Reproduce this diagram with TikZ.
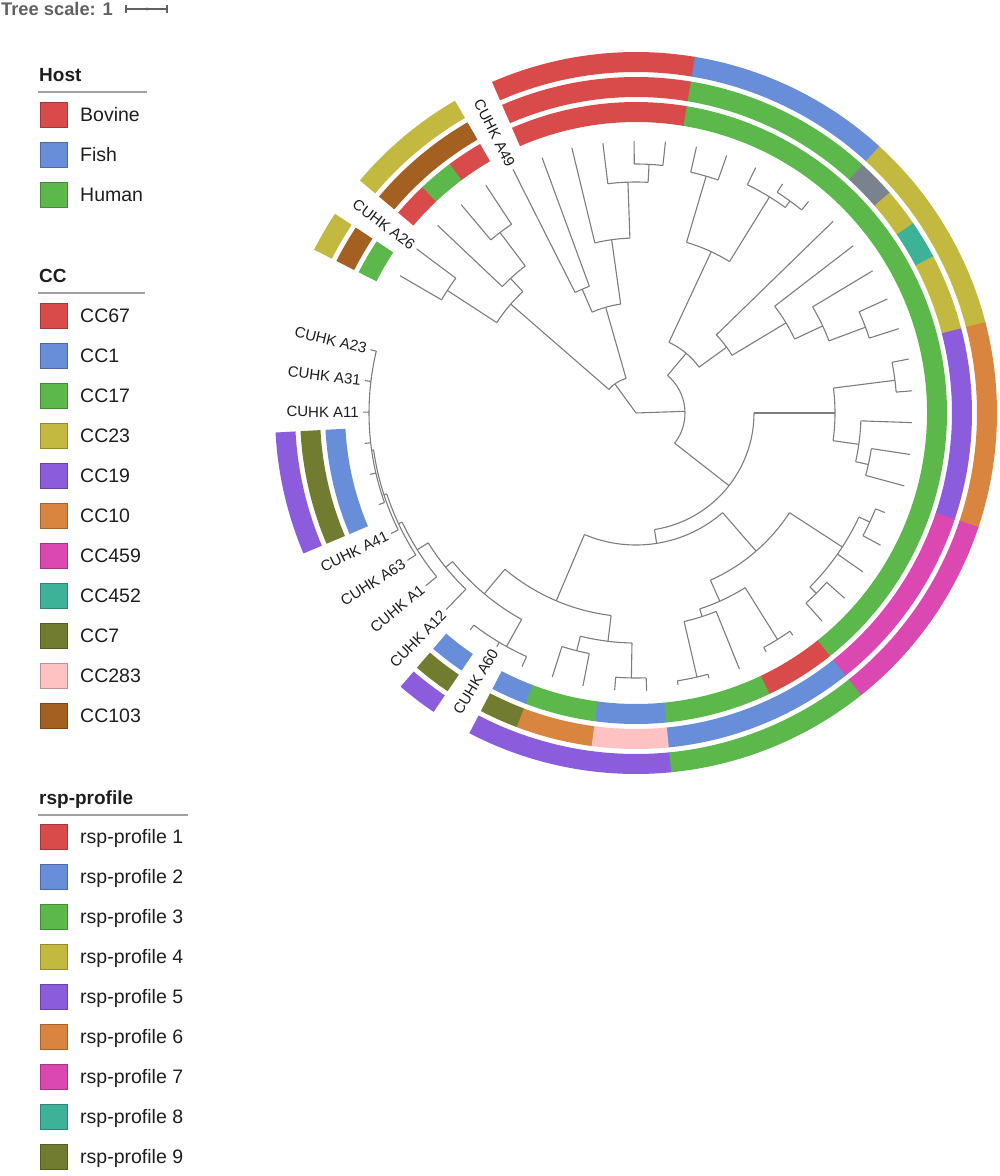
\documentclass[tikz,border=0pt]{standalone}
\usepackage{fontspec}
\setmainfont{Liberation Sans}
\definecolor{cRed}{RGB}{217,75,75}
\definecolor{cBlue}{RGB}{104,141,217}
\definecolor{cGreen}{RGB}{93,184,76}
\definecolor{cYellow}{RGB}{196,185,64}
\definecolor{cPurple}{RGB}{139,92,219}
\definecolor{cOrange}{RGB}{217,133,64}
\definecolor{cMagenta}{RGB}{219,72,178}
\definecolor{cTeal}{RGB}{62,178,152}
\definecolor{cOlive}{RGB}{114,124,48}
\definecolor{cPink}{RGB}{255,194,194}
\definecolor{cBrown}{RGB}{163,96,33}
\definecolor{cGrey}{RGB}{122,130,142}
\definecolor{treeline}{RGB}{125,125,125}
\definecolor{legline}{RGB}{160,160,160}
\definecolor{txt}{RGB}{30,30,30}
\newcommand{\trad}[3]{\draw[tree] (#1:#2) -- (#1:#3);}
\newcommand{\tarc}[3]{\draw[tree] (#2:#1) arc[start angle=#2,end angle=#3,radius=#1];}
\newcommand{\rseg}[5]{\fill[#5] (#3:#1) arc[start angle=#3,end angle=#4,radius=#1] -- (#4:#2) arc[start angle=#4,end angle=#3,radius=#2] -- cycle;}
\newcommand{\ringA}[3]{\rseg{291}{311}{#1}{#2}{#3}}
\newcommand{\ringB}[3]{\rseg{316}{336}{#1}{#2}{#3}}
\newcommand{\ringC}[3]{\rseg{341}{361}{#1}{#2}{#3}}
\newcommand{\legitem}[4]{%
  \node[swatch, fill=#3, draw=#3!75!black] (#1) at (53.5,#2) {};
  \node[legtext] (#1t) at (80,#2+6.8) {#4};}
\begin{document}
\begin{tikzpicture}[x=1pt,y=-1pt,
  tree/.style={draw=treeline, line width=1.1pt},
  swatch/.style={rectangle, minimum width=27pt, minimum height=25pt, inner sep=0pt, line width=1pt},
  legtext/.style={anchor=base west, inner sep=0pt, text=txt, font=\fontsize{19.5}{23}\selectfont},
  legtitle/.style={anchor=base west, inner sep=0pt, text=txt, font=\fontsize{19}{23}\selectfont\bfseries},
  legrule/.style={draw=legline, line width=1.3pt},
  tiplab/.style={anchor=east, inner sep=0pt, text=txt, font=\fontsize{15}{18}\selectfont}]
\useasboundingbox (0,0) rectangle (1000,1176);

% tree scale
\node[anchor=west, inner sep=0pt, text=black!62, font=\fontsize{18.3}{21}\selectfont\bfseries] (ts) at (1,9) {Tree scale: 1};
\coordinate (sbL) at (126,9);
\coordinate (sbR) at (167,9);
\draw[black!62, line width=1.2pt] (sbL) -- (sbR);
\draw[black!62, line width=1.2pt] (126,5) -- (126,13) (167,5) -- (167,13);
\fill[black!62] (147,9) circle (1.6);

% legends
\node[legtitle] (hostT) at (39,81.8) {Host};
\draw[legrule] (38,92) -- (147,92);
\legitem{hb}{115}{cRed}{Bovine}
\legitem{hf}{155}{cBlue}{Fish}
\legitem{hh}{195}{cGreen}{Human}

\node[legtitle] (ccT) at (39,282.8) {CC};
\draw[legrule] (38,293) -- (145,293);
\legitem{c1}{316}{cRed}{CC67}
\legitem{c2}{356}{cBlue}{CC1}
\legitem{c3}{396}{cGreen}{CC17}
\legitem{c4}{436}{cYellow}{CC23}
\legitem{c5}{476}{cPurple}{CC19}
\legitem{c6}{516}{cOrange}{CC10}
\legitem{c7}{556}{cMagenta}{CC459}
\legitem{c8}{596}{cTeal}{CC452}
\legitem{c9}{636}{cOlive}{CC7}
\legitem{c10}{676}{cPink}{CC283}
\legitem{c11}{716}{cBrown}{CC103}

\node[legtitle] (rspT) at (39,804) {rsp-profile};
\draw[legrule] (38,815) -- (188,815);
\legitem{r1}{837}{cRed}{rsp-profile 1}
\legitem{r2}{877}{cBlue}{rsp-profile 2}
\legitem{r3}{917}{cGreen}{rsp-profile 3}
\legitem{r4}{957}{cYellow}{rsp-profile 4}
\legitem{r5}{997}{cPurple}{rsp-profile 5}
\legitem{r6}{1037}{cOrange}{rsp-profile 6}
\legitem{r7}{1077}{cMagenta}{rsp-profile 7}
\legitem{r8}{1117}{cTeal}{rsp-profile 8}
\legitem{r9}{1157}{cOlive}{rsp-profile 9}

\begin{scope}[shift={(636pt,-413pt)}, y=1pt]
% ---------- rings ----------
\ringA{113.5}{80.5}{cRed}
\ringA{80.6}{-51.5}{cGreen}
\ringA{-51.4}{-64.7}{cRed}
\ringA{-64.6}{-84.5}{cGreen}
\ringA{-84.4}{-97.7}{cBlue}
\ringA{-97.6}{-110.9}{cGreen}
\ringA{-110.8}{-117.5}{cBlue}

\ringB{113.5}{80.5}{cRed}
\ringB{80.6}{47.5}{cGreen}
\ringB{47.6}{40.9}{cGrey}
\ringB{41}{34.3}{cYellow}
\ringB{34.4}{27.7}{cTeal}
\ringB{27.8}{14.5}{cYellow}
\ringB{14.6}{-18.5}{cPurple}
\ringB{-18.4}{-51.5}{cMagenta}
\ringB{-51.4}{-84.5}{cBlue}
\ringB{-84.4}{-97.7}{cPink}
\ringB{-97.6}{-110.9}{cOrange}
\ringB{-110.8}{-117.5}{cOlive}

\ringC{113.5}{80.5}{cRed}
\ringC{80.6}{47.5}{cBlue}
\ringC{47.6}{14.5}{cYellow}
\ringC{14.6}{-18.5}{cOrange}
\ringC{-18.4}{-51.5}{cMagenta}
\ringC{-51.4}{-84.5}{cGreen}
\ringC{-84.4}{-117.5}{cPurple}

% isolated segments
\ringA{139.9}{133.3}{cRed}
\ringA{133.4}{126.7}{cGreen}
\ringA{126.8}{120.1}{cRed}
\ringB{139.9}{120.1}{cBrown}
\ringC{139.9}{120.1}{cYellow}

\ringA{153.1}{146.5}{cGreen}
\ringB{153.1}{146.5}{cBrown}
\ringC{153.1}{146.5}{cYellow}

\ringA{202.9}{183.1}{cBlue}
\ringB{202.9}{183.1}{cOlive}
\ringC{202.9}{183.1}{cPurple}

\ringA{235.9}{229.3}{cBlue}
\ringB{235.9}{229.3}{cOlive}
\ringC{235.9}{229.3}{cPurple}

% ---------- tree: upper-left clade ----------
\trad{126}{0}{36}
\tarc{36}{106}{139}
\trad{139}{36}{166}
\tarc{166}{133}{147}
\trad{147}{166}{225}
\tarc{225}{143.2}{149.8}
\trad{149.8}{225}{273}
\trad{143.2}{225}{274}
\trad{133}{166}{184}
\tarc{184}{127}{136.6}
\trad{136.6}{184}{273}
\trad{127}{184}{226}
\tarc{226}{123.4}{130}
\trad{130}{226}{272}
\trad{123.4}{226}{273}
\trad{106}{36}{110}
\tarc{110}{98}{113.5}
\trad{113.5}{110}{135}
\tarc{135}{110.2}{116.8}
\trad{116.8}{135}{273}
\trad{110.2}{135}{272}
\trad{98}{110}{175}
\tarc{175}{92}{103.6}
\trad{103.6}{175}{273}
\trad{92}{175}{231}
\tarc{231}{87}{97}
\trad{97}{231}{272}
\trad{87}{231}{249}
\tarc{249}{83.8}{90.4}
\trad{90.4}{249}{272}
\trad{83.8}{249}{273}

% ---------- tree: right clade ----------
\trad{2}{0}{49}
\tarc{49}{-38}{50}
\trad{50}{49}{78}
\tarc{78}{36}{65}
\trad{65}{78}{178}
\tarc{178}{58.3}{73.5}
\trad{73.5}{178}{247}
\tarc{247}{70.6}{77.2}
\trad{77.2}{247}{273}
\trad{70.6}{247}{273}
\trad{58.3}{178}{254}
\tarc{254}{54}{64}
\trad{64}{254}{273}
\trad{54}{254}{262}
\tarc{262}{50.8}{57.4}
\trad{57.4}{262}{272}
\trad{50.8}{262}{273}
\trad{36}{78}{112}
\tarc{112}{31}{44.2}
\trad{44.2}{112}{275}
\trad{31}{112}{175}
\tarc{175}{25}{37.6}
\trad{37.6}{175}{274}
\trad{25}{175}{206}
\tarc{206}{20.5}{31}
\trad{31}{206}{276}
\trad{20.5}{206}{245}
\tarc{245}{17.8}{24.4}
\trad{24.4}{245}{276}
\trad{17.8}{245}{276}
\trad{-38}{49}{118}
\tarc{118}{-81}{0}
\trad{0}{118}{199}
\tarc{199}{-8}{7.2}
\trad{7.2}{199}{261}
\tarc{261}{4.6}{11.2}
\trad{11.2}{261}{278}
\trad{4.6}{261}{277}
\trad{-8}{199}{225}
\tarc{225}{-12.5}{-2}
\trad{-2}{225}{276}
\trad{-12.5}{225}{238}
\tarc{238}{-15.2}{-8.6}
\trad{-8.6}{238}{277}
\trad{-15.2}{238}{278}
\trad{-81}{118}{132}
\tarc{132}{-113}{-49}
\trad{-49}{132}{183}
\tarc{183}{-66}{-33}
\trad{-33}{183}{246}
\tarc{246}{-45}{-25}
\trad{-25}{246}{258}
\tarc{258}{-28.4}{-21.8}
\trad{-21.8}{258}{268}
\trad{-28.4}{258}{278}
\trad{-35}{246}{277}
\trad{-45}{246}{255}
\tarc{255}{-48.2}{-41.6}
\trad{-41.6}{255}{279}
\trad{-48.2}{255}{279}
\trad{-66}{183}{206}
\tarc{206}{-72}{-58}
\trad{-58}{206}{267}
\tarc{267}{-61.4}{-54.8}
\trad{-54.8}{267}{272}
\trad{-61.4}{267}{272}
\trad{-72}{206}{214}
\tarc{214}{-77}{-68}
\trad{-68}{214}{276}
\trad{-77}{214}{271}
\tarc{271}{-81.2}{-74.6}
\trad{-74.6}{271}{275}
\trad{-81.2}{271}{275}
% lower / left part
\trad{247}{132}{204}
\tarc{204}{230}{263}
\trad{263}{204}{230}
\tarc{230}{256}{269}
\trad{269}{230}{265}
\tarc{265}{265.6}{272.2}
\trad{272.2}{265}{278}
\trad{265.6}{265}{278}
\trad{256}{230}{245}
\tarc{245}{252.4}{259}
\trad{259}{245}{278}
\trad{252.4}{245}{277}
\trad{230}{204}{236}
\tarc{236}{219}{241}
\trad{241}{236}{267}
\tarc{267}{232.6}{245.8}
\trad{245.8}{267}{278}
\trad{239.2}{267}{272}
\trad{232.6}{267}{273}
\trad{219}{236}{245}
\tarc{245}{212}{226}
\trad{226}{245}{273}
\trad{212}{245}{258}
\tarc{258}{205}{219.4}
\trad{219.4}{258}{272}
\trad{205}{258}{262}
\tarc{262}{198}{212.8}
\trad{212.8}{262}{272}
\trad{198}{262}{265}
\tarc{265}{188}{206.2}
\trad{206.2}{265}{273}
\trad{188}{265}{267}
\tarc{267}{166.6}{199.6}
\foreach \a in {166.6,173.2,179.8,186.4,193,199.6} {\trad{\a}{267}{273}}

% ---------- tip labels ----------
\node[tiplab, rotate=-63.2] (lA49) at (116.8:277) {CUHK A49};
\node[tiplab, rotate=-36.8] (lA26) at (143.2:278) {CUHK A26};
\node[tiplab, rotate=-13.4] (lA23) at (166.6:277) {CUHK A23};
\node[tiplab, rotate=-6.8] (lA31) at (173.2:277) {CUHK A31};
\node[tiplab, rotate=-0.2] (lA11) at (179.8:277) {CUHK A11};
\node[tiplab, rotate=26.2] (lA41) at (206.2:277) {CUHK A41};
\node[tiplab, rotate=32.8] (lA63) at (212.8:276) {CUHK A63};
\node[tiplab, rotate=39.4] (lA1) at (219.4:276) {CUHK A1};
\node[tiplab, rotate=46] (lA12) at (226:277) {CUHK A12};
\node[tiplab, rotate=59.2] (lA60) at (239.2:276) {CUHK A60};
\end{scope}
\end{tikzpicture}
\end{document}
